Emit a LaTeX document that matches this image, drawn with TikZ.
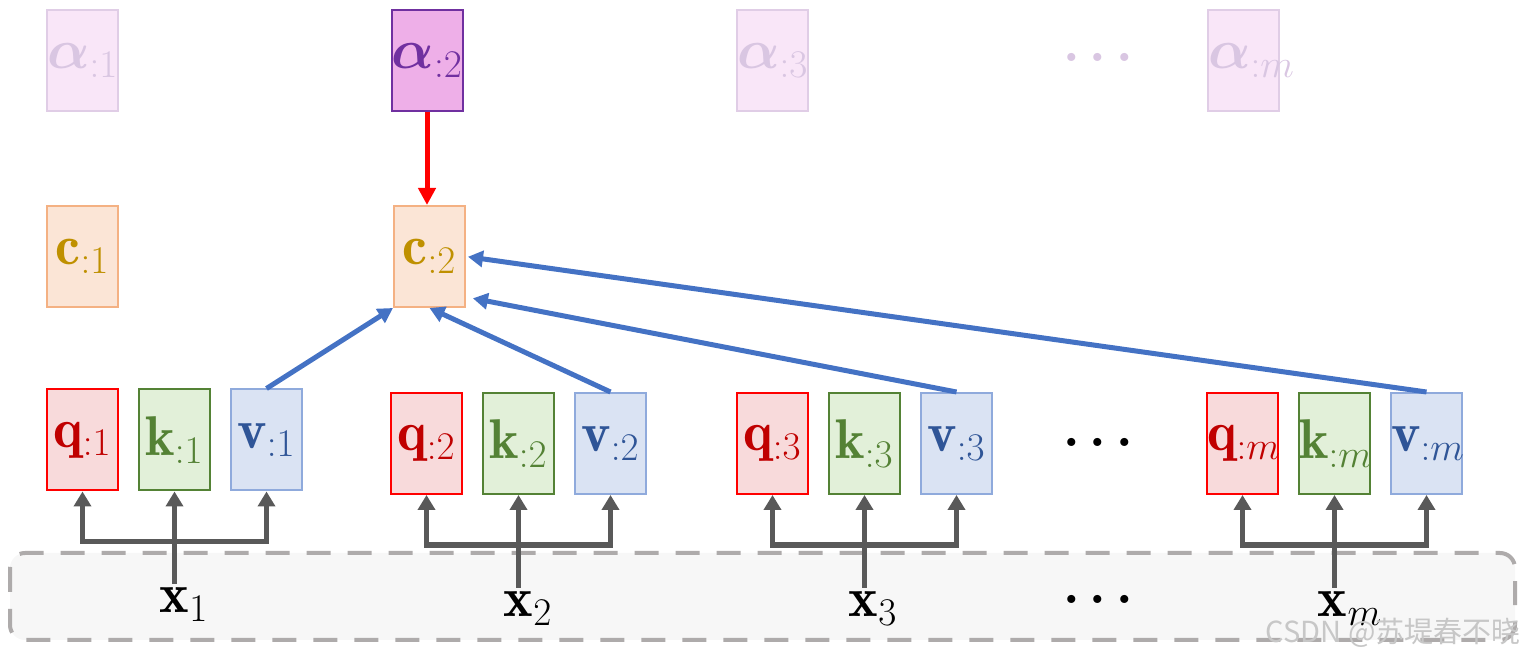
\RequirePackage{fix-cm}
\documentclass[tikz,border=0pt]{standalone}
\usepackage{amsmath, bm}
\usepackage{fontspec}
\newfontfamily\cjk{Noto Sans CJK SC}
\usetikzlibrary{positioning, arrows.meta, calc}

\definecolor{afill}{HTML}{F9E6F8}
\definecolor{adraw}{HTML}{E0CDE6}
\definecolor{atext}{HTML}{D9C6E2}
\definecolor{aonfill}{HTML}{EEAFE8}
\definecolor{aondraw}{HTML}{7030A0}
\definecolor{cfill}{HTML}{FBE5D6}
\definecolor{cdraw}{HTML}{F4B183}
\definecolor{ctext}{HTML}{BF9000}
\definecolor{qfill}{HTML}{F8DADB}
\definecolor{qdraw}{HTML}{FF0000}
\definecolor{qtext}{HTML}{C00000}
\definecolor{kfill}{HTML}{E2F0D9}
\definecolor{kdraw}{HTML}{548235}
\definecolor{vfill}{HTML}{DAE3F3}
\definecolor{vdraw}{HTML}{8FAADC}
\definecolor{vtext}{HTML}{2F5597}
\definecolor{linkblue}{HTML}{4472C4}
\definecolor{forkgray}{HTML}{595959}
\definecolor{bandfill}{HTML}{F7F7F7}
\definecolor{banddraw}{HTML}{AEABAB}

\tikzset{
  cell/.style={draw, line width=1pt, text width=35.5pt, align=center, minimum height=50.5pt, inner sep=0pt, font=\fontsize{28}{32}\selectfont},
  afade/.style={cell, fill=afill, draw=adraw, text=atext},
  aon/.style={cell, fill=aonfill, draw=aondraw, text=aondraw},
  cbox/.style={cell, fill=cfill, draw=cdraw, text=ctext},
  qbox/.style={cell, fill=qfill, draw=qdraw, text=qtext},
  kbox/.style={cell, fill=kfill, draw=kdraw, text=kdraw},
  vbox/.style={cell, fill=vfill, draw=vdraw, text=vtext},
  xlabel/.style={inner sep=2pt, anchor=base, font=\fontsize{28}{32}\selectfont},
  dotsnode/.style={inner sep=0pt, font=\fontsize{26}{30}\selectfont},
  fork/.style={draw=forkgray, line width=2.75pt, {Triangle[length=7.5pt,width=8.5pt]}-{Triangle[length=7.5pt,width=8.5pt]}},
  feed/.style={draw=forkgray, line width=2.75pt, -{Triangle[length=7.5pt,width=8.5pt]}},
  vlink/.style={draw=linkblue, line width=2.5pt, -{Triangle[length=7.5pt,width=8pt]}},
  alink/.style={draw=red, line width=2.5pt, -{Triangle[length=8.5pt,width=8.5pt]}},
  inputband/.style={fill=bandfill, draw=banddraw, line width=2pt, dash pattern=on 12pt off 8.5pt, rounded corners=7.5pt}
}

\begin{document}
\begin{tikzpicture}[x=0.5pt, y=-0.5pt]
\useasboundingbox (0,0) rectangle (1525,656);

% input band
\draw[inputband] (10,553) rectangle (1515,640);

% attention weights
\node[afade] (a1) at (82.5,60.5) {$\bm{\alpha}_{:1}$};
\node[aon] (a2) at (427,60.5) {$\bm{\alpha}_{:2}$};
\node[afade] (a3) at (772.5,60.5) {$\bm{\alpha}_{:3}$};
\node[dotsnode, text=atext] (adots) at (1103,58) {$\bm{\cdots}$};
\node[afade] (am) at (1243.5,60.5) {$\bm{\alpha}_{:m}$};

% context vectors
\node[cbox] (c1) at (82.5,256.5) {$\mathbf{c}_{:1}$};
\node[cbox] (c2) at (429.5,256.5) {$\mathbf{c}_{:2}$};

% queries, keys, values
\node[qbox] (q1) at (82.5,440) {$\mathbf{q}_{:1}$};
\node[kbox, right=9.5pt of q1] (k1) {$\mathbf{k}_{:1}$};
\node[vbox, right=9.5pt of k1] (v1) {$\mathbf{v}_{:1}$};

\node[qbox] (q2) at (426.5,443.5) {$\mathbf{q}_{:2}$};
\node[kbox, right=9.5pt of q2] (k2) {$\mathbf{k}_{:2}$};
\node[vbox, right=9.5pt of k2] (v2) {$\mathbf{v}_{:2}$};

\node[qbox] (q3) at (772.5,443.5) {$\mathbf{q}_{:3}$};
\node[kbox, right=9.5pt of q3] (k3) {$\mathbf{k}_{:3}$};
\node[vbox, right=9.5pt of k3] (v3) {$\mathbf{v}_{:3}$};

\node[dotsnode] (qdots) at (1103,443) {$\bm{\cdots}$};

\node[qbox] (qm) at (1242.5,443.5) {$\mathbf{q}_{:m}$};
\node[kbox, right=9.5pt of qm] (km) {$\mathbf{k}_{:m}$};
\node[vbox, right=9.5pt of km] (vm) {$\mathbf{v}_{:m}$};

% inputs
\node[xlabel] (x1) at (184,613) {$\mathbf{x}_1$};
\node[xlabel] (x2) at (528,617) {$\mathbf{x}_2$};
\node[xlabel] (x3) at (873,617) {$\mathbf{x}_3$};
\node[dotsnode] (xdots) at (1103,600) {$\bm{\cdots}$};
\node[xlabel] (xm) at (1350,617) {$\mathbf{x}_m$};

% forks from inputs
\foreach \i in {1,2,3,m} {
  \coordinate (j\i) at ($(k\i.south)+(0,50)$);
  \draw[fork] (q\i.south) |- (j\i) -| (v\i.south);
  \draw[feed] (x\i.north -| k\i.south) -- (k\i.south);
}

% values into context
\draw[vlink] (v1.north) -- (c2.south west);
\draw[vlink] (v2.north) -- (c2.south);
\draw[vlink, shorten >=3.5pt] (v3.north) -- ([yshift=5.5pt]c2.south east);
\draw[vlink, shorten >=1pt] (vm.north) -- (c2.east);

% weights into context
\draw[alink] (a2.south) -- (a2.south |- c2.north);

\node[font=\cjk\fontsize{14.5}{16}\selectfont, text=black!22, inner sep=0pt] (wm) at (1393,633) {CSDN @苏堤春不晓};
\end{tikzpicture}
\end{document}
